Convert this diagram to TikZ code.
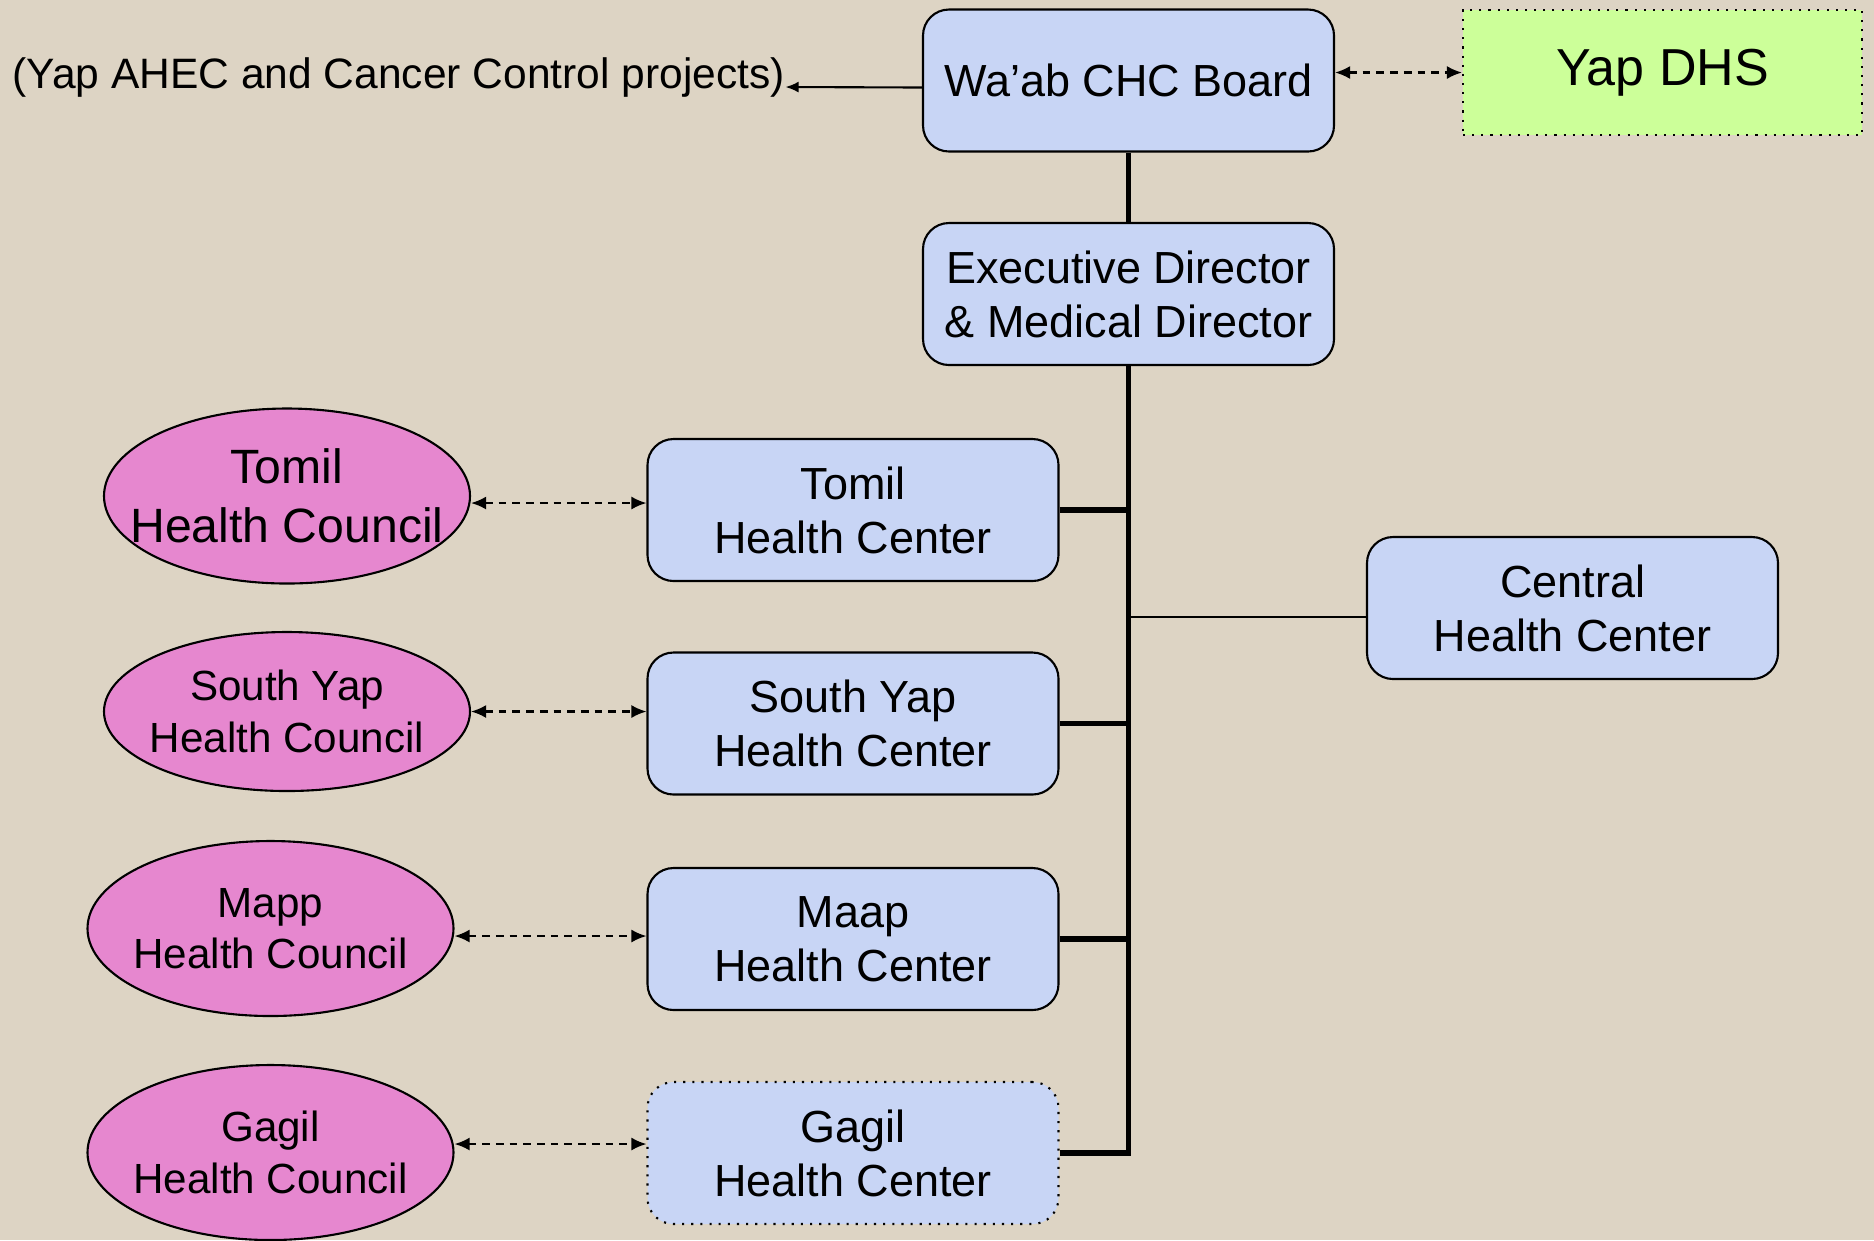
\documentclass[tikz,border=0pt]{standalone}
\usepackage{fontspec}
\setmainfont{Liberation Sans}
\usetikzlibrary{arrows.meta, positioning, shapes.geometric}
\definecolor{yapsand}{HTML}{DDD4C4}
\definecolor{yapbox}{HTML}{C8D5F5}
\definecolor{yappink}{HTML}{E687CF}
\definecolor{yaplime}{HTML}{CCFF99}

\begin{document}
\begin{tikzpicture}[
        every node/.style={align=center},
        unit/.style={rectangle, rounded corners=0.26cm, draw=black, line width=0.6pt,
                     fill=yapbox, minimum width=4.11cm, minimum height=1.42cm,
                     inner sep=0pt, font=\fontsize{12.8}{15.4}\selectfont},
        council/.style={ellipse, draw=black, line width=0.6pt, fill=yappink,
                        minimum width=3.66cm, minimum height=1.75cm, inner sep=0pt},
        cltext/.style={font=\fontsize{12}{14.6}\selectfont, inner sep=0pt},
        trunk/.style={line width=1.5pt},
        branch/.style={line width=0.6pt},
        link/.style={line width=0.6pt, dash pattern=on 2.2pt off 1.7pt,
                     {Latex[length=1.5mm,width=1.3mm]}-{Latex[length=1.5mm,width=1.3mm]}},
        notearrow/.style={line width=0.6pt, -{Latex[length=1.3mm,width=1.1mm]}}
    ]
        \useasboundingbox (0,0) rectangle (18.74,-12.40);
        \fill[yapsand] (0,0) rectangle (18.74,-12.40);

        % board and department
        \node[unit] (board) at (11.285,-0.805) {Wa’ab CHC Board};
        \node[rectangle, draw=black, dotted, line width=0.6pt, fill=yaplime,
              minimum width=3.99cm, minimum height=1.25cm,
              font=\fontsize{14.8}{17.8}\selectfont] (dhs) at (16.625,-0.725) {Yap DHS};
        \node[anchor=west, inner sep=0pt, font=\fontsize{12.1}{14.5}\selectfont]
            (note) at (0.12,-0.77) {(Yap AHEC and Cancer Control projects)};
        \node[unit] (exec) at (11.285,-2.94) {Executive Director\\\& Medical Director};

        % health centers
        \node[unit] (tomilhc) at (8.53,-5.10) {Tomil\\Health Center};
        \node[unit] (southhc) at (8.53,-7.235) {South Yap\\Health Center};
        \node[unit] (maaphc) at (8.53,-9.39) {Maap\\Health Center};
        \node[unit, dotted] (gagilhc) at (8.53,-11.53) {Gagil\\Health Center};
        \node[unit] (centralhc) at (15.725,-6.08) {Central\\Health Center};

        % health councils
        \node[council] (tomilcl) at (2.87,-4.96) {};
        \node[cltext, font=\fontsize{13.7}{16.7}\selectfont] at (tomilcl) {Tomil\\Health Council};
        \node[council, minimum height=1.59cm] (southcl) at (2.87,-7.115) {};
        \node[cltext] at (southcl) {South Yap\\Health Council};
        \node[council] (mappcl) at (2.705,-9.285) {};
        \node[cltext] at (mappcl) {Mapp\\Health Council};
        \node[council] (gagilcl) at (2.705,-11.525) {};
        \node[cltext] at (gagilcl) {Gagil\\Health Council};

        % lines of authority
        \draw[trunk] (board) -- (exec);
        \draw[trunk] (exec.south) |- (gagilhc.east);
        \foreach \hc in {tomilhc, southhc, maaphc}
            \draw[trunk] (\hc.east) -- (\hc.east -| exec.south);
        \draw[branch] ([yshift=-0.09cm]centralhc.west) -- ([yshift=-0.09cm]centralhc.west -| exec.south);
        \draw[notearrow] ([yshift=-0.07cm]board.west) -- ([yshift=-0.1cm]note.east);

        % partner links
        \draw[link] (dhs.west -| board.east) -- (dhs.west);
        \foreach \cl/\hc/\dy in {tomilcl/tomilhc/-0.07, southcl/southhc/0,
                                 mappcl/maaphc/-0.075, gagilcl/gagilhc/0.085}
            \draw[link] ([yshift=\dy cm]\cl.east) -- ([yshift=\dy cm]\cl.east -| \hc.west);
    \end{tikzpicture}
\end{document}
